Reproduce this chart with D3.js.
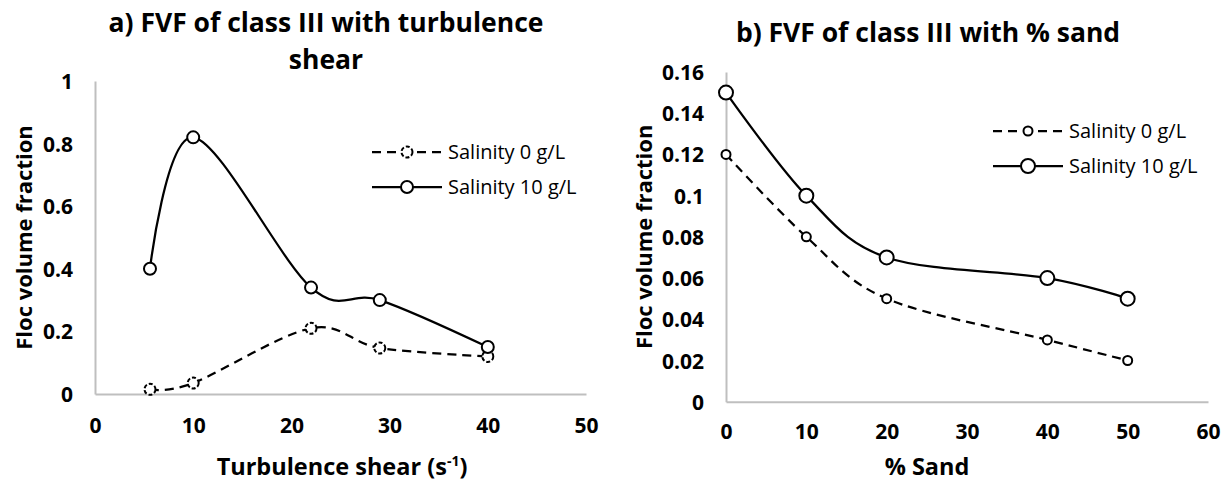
<!DOCTYPE html>
<html>
<head>
<meta charset="utf-8">
<script src="https://cdn.jsdelivr.net/npm/d3@7/dist/d3.min.js"></script>
<style>
  html, body { margin: 0; padding: 0; background: #fff; }
  svg { display: block; }
</style>
</head>
<body>
<div id="chart"></div>
<script>
// Panneau a : turbulence
const shearX = [5.6, 10, 22, 29, 40];
const shearSal0 = [0.015, 0.035, 0.21, 0.147, 0.12];
const shearSal10 = [0.40, 0.82, 0.34, 0.30, 0.15];
const shearXTicks = [0, 10, 20, 30, 40, 50];
const shearYTicks = [0, 0.2, 0.4, 0.6, 0.8, 1];

// Panneau b : sable
const sandX = [0, 10, 20, 40, 50];
const sandSal0 = [0.12, 0.08, 0.05, 0.03, 0.02];
const sandSal10 = [0.15, 0.10, 0.07, 0.06, 0.05];
const sandXTicks = [0, 10, 20, 30, 40, 50, 60];
const sandYTicks = [0, 0.02, 0.04, 0.06, 0.08, 0.1, 0.12, 0.14, 0.16];

const seriesNames = ["Salinity 0 g/L", "Salinity 10 g/L"];

const FONT = "'Open Sans', 'Liberation Sans', sans-serif";
const AXIS_GREY = "#bfbfbf";

const svg = d3.select("#chart").append("svg")
  .attr("width", 1232)
  .attr("height", 481);

function panel(opts) {
  const g = svg.append("g");
  const x = d3.scaleLinear().domain(opts.xDomain).range(opts.xRange);
  const y = d3.scaleLinear().domain(opts.yDomain).range(opts.yRange);

  // Axes (pas de graduations, trait gris)
  g.append("g")
    .attr("transform", `translate(0,${opts.yRange[0]})`)
    .call(d3.axisBottom(x).tickValues(opts.xTicks).tickSize(0).tickPadding(opts.xPad).tickFormat(d3.format("")))
    .call(ax => ax.select(".domain").attr("stroke", AXIS_GREY).attr("stroke-width", 2))
    .selectAll("text")
    .attr("fill", "#000")
    .attr("font-size", "21px")
    .attr("font-weight", "700")
    .attr("font-family", FONT);

  g.append("g")
    .attr("transform", `translate(${opts.xRange[0]},0)`)
    .call(d3.axisLeft(y).tickValues(opts.yTicks).tickSize(0).tickPadding(22).tickFormat(d => String(+d.toFixed(2))))
    .call(ax => ax.select(".domain").attr("stroke", AXIS_GREY).attr("stroke-width", 2))
    .selectAll("text")
    .attr("fill", "#000")
    .attr("font-size", "21px")
    .attr("font-weight", "700")
    .attr("font-family", FONT)
    .attr("dy", "0.36em");

  const line = d3.line()
    .x(d => x(d[0]))
    .y(d => y(d[1]))
    .curve(d3.curveCardinal.tension(0));

  const s0 = opts.xs.map((v, i) => [v, opts.sal0[i]]);
  const s10 = opts.xs.map((v, i) => [v, opts.sal10[i]]);

  g.append("path")
    .attr("d", line(s0))
    .attr("fill", "none")
    .attr("stroke", "#000")
    .attr("stroke-width", 2.25)
    .attr("stroke-dasharray", "9,6");

  g.append("path")
    .attr("d", line(s10))
    .attr("fill", "none")
    .attr("stroke", "#000")
    .attr("stroke-width", 2.25);

  g.selectAll(".m0").data(s0).enter().append("circle")
    .attr("cx", d => x(d[0])).attr("cy", d => y(d[1]))
    .attr("r", opts.r0)
    .attr("fill", "#fff").attr("stroke", "#000").attr("stroke-width", 2)
    .attr("stroke-dasharray", opts.dashedMarker ? "4,2" : null);

  g.selectAll(".m10").data(s10).enter().append("circle")
    .attr("cx", d => x(d[0])).attr("cy", d => y(d[1]))
    .attr("r", opts.r10)
    .attr("fill", "#fff").attr("stroke", "#000").attr("stroke-width", 2);

  // Légende
  const lg = g.append("g").attr("transform", `translate(${opts.legend[0]},${opts.legend[1]})`);
  seriesNames.forEach((name, i) => {
    const row = lg.append("g").attr("transform", `translate(0,${i * 35})`);
    row.append("line")
      .attr("x1", 0).attr("x2", 70)
      .attr("stroke", "#000").attr("stroke-width", 2.25)
      .attr("stroke-dasharray", i === 0 ? "9,6" : null);
    row.append("circle")
      .attr("cx", 35).attr("r", i === 0 ? opts.r0 : opts.r10)
      .attr("fill", "#fff").attr("stroke", "#000").attr("stroke-width", 2)
      .attr("stroke-dasharray", i === 0 && opts.dashedMarker ? "4,2" : null);
    row.append("text")
      .attr("x", 76).attr("dy", "0.35em")
      .attr("font-size", "20px")
      .attr("font-family", FONT)
      .text(name);
  });

  // Titre de l'axe Y
  const cy = (opts.yRange[0] + opts.yRange[1]) / 2;
  g.append("text")
    .attr("transform", `translate(${opts.yTitleX},${cy}) rotate(-90)`)
    .attr("text-anchor", "middle")
    .attr("font-size", "22px")
    .attr("font-weight", "700")
    .attr("font-family", FONT)
    .text("Floc volume fraction");

  return { g, x, y };
}

// a)
const pa = panel({
  xDomain: [0, 50], xRange: [95, 586],
  yDomain: [0, 1], yRange: [394, 81],
  xTicks: shearXTicks, yTicks: shearYTicks, xPad: 24,
  xs: shearX, sal0: shearSal0, sal10: shearSal10,
  r0: 5.5, r10: 6, dashedMarker: true,
  legend: [372, 152], yTitleX: 32
});

const ta = pa.g.append("text")
  .attr("text-anchor", "middle")
  .attr("font-size", "26.5px")
  .attr("font-weight", "700")
  .attr("font-family", FONT);
ta.append("tspan").attr("x", 326).attr("y", 32).text("a) FVF of class III with turbulence");
ta.append("tspan").attr("x", 326).attr("y", 69).text("shear");

const xa = pa.g.append("text")
  .attr("x", 342).attr("y", 475)
  .attr("text-anchor", "middle")
  .attr("font-size", "23.5px")
  .attr("font-weight", "700")
  .attr("font-family", FONT);
xa.append("tspan").text("Turbulence shear (s");
xa.append("tspan").attr("baseline-shift", "super").attr("font-size", "14px").text("-1");
xa.append("tspan").text(")");

// b)
const pb = panel({
  xDomain: [0, 60], xRange: [726, 1208],
  yDomain: [0, 0.16], yRange: [401.7, 72],
  xTicks: sandXTicks, yTicks: sandYTicks, xPad: 22,
  xs: sandX, sal0: sandSal0, sal10: sandSal10,
  r0: 4.5, r10: 7, dashedMarker: false,
  legend: [993, 131], yTitleX: 652
});

pb.g.append("text")
  .attr("x", 928).attr("y", 42)
  .attr("text-anchor", "middle")
  .attr("font-size", "26.5px")
  .attr("font-weight", "700")
  .attr("font-family", FONT)
  .text("b) FVF of class III with % sand");

pb.g.append("text")
  .attr("x", 927).attr("y", 475)
  .attr("text-anchor", "middle")
  .attr("font-size", "23.5px")
  .attr("font-weight", "700")
  .attr("font-family", FONT)
  .text("% Sand");
</script>
</body>
</html>
